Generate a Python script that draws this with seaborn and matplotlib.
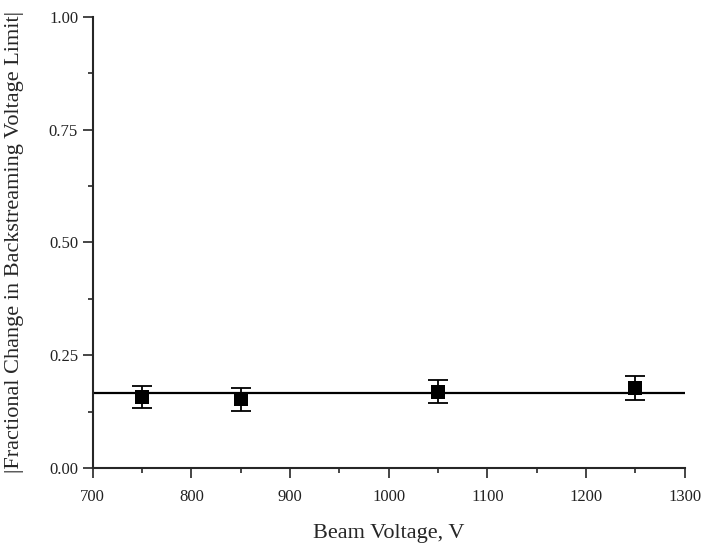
import matplotlib
matplotlib.use("Agg")
import matplotlib.pyplot as plt
from matplotlib.ticker import MultipleLocator
import seaborn as sns
import pandas as pd

# measured points
beam_voltage = [750, 850, 1050, 1250]
frac_change = [0.157, 0.152, 0.169, 0.177]
frac_err = [0.025, 0.025, 0.025, 0.027]

# mean / fit line
fit_voltage = [700, 1300]
fit_value = [0.167, 0.167]

df = pd.DataFrame({"V": beam_voltage, "F": frac_change, "err": frac_err})
fit_df = pd.DataFrame({"V": fit_voltage, "F": fit_value})

sns.set_style("ticks")
plt.rcParams.update({
    "font.family": ["Liberation Serif", "DejaVu Serif"],
    "axes.linewidth": 1.5,
    "xtick.major.size": 7.5,
    "ytick.major.size": 7.5,
    "xtick.minor.size": 3.5,
    "ytick.minor.size": 3.5,
    "xtick.major.width": 1.2,
    "ytick.major.width": 1.2,
    "xtick.minor.width": 1.2,
    "ytick.minor.width": 1.2,
    "xtick.direction": "out",
    "ytick.direction": "out",
    "xtick.labelsize": 12,
    "ytick.labelsize": 12,
    "text.color": "#222222",
    "xtick.labelcolor": "#222222",
    "ytick.labelcolor": "#222222",
})

fig = plt.figure(figsize=(7.06, 5.48), dpi=100)
ax = fig.add_axes([0.1313, 0.146, 0.970 - 0.1313, 0.969 - 0.146])

sns.lineplot(data=fit_df, x="V", y="F", ax=ax, color="black", lw=1.6)

ax.errorbar(df["V"], df["F"], yerr=df["err"], fmt="none",
            ecolor="black", elinewidth=1.3, capsize=7, capthick=1.3, zorder=3)
sns.scatterplot(data=df, x="V", y="F", ax=ax, marker="s", s=95,
                color="black", edgecolor="black", linewidth=0, zorder=4)

ax.set_xlim(700, 1300)
ax.set_ylim(0, 1.0)
ax.xaxis.set_major_locator(MultipleLocator(100))
ax.xaxis.set_minor_locator(MultipleLocator(50))
ax.yaxis.set_major_locator(MultipleLocator(0.25))
ax.yaxis.set_minor_locator(MultipleLocator(0.125))
ax.yaxis.set_major_formatter(matplotlib.ticker.FormatStrFormatter("%.2f"))
ax.tick_params(axis="x", which="major", pad=7.5)
ax.tick_params(axis="y", which="major", pad=3)

sns.despine(ax=ax)

ax.set_xlabel("Beam Voltage, V", fontsize=16, labelpad=14)
ax.set_ylabel("|Fractional Change in Backstreaming Voltage Limit|",
              fontsize=16, labelpad=18)

fig.savefig("out.png", dpi=100, facecolor="white")
